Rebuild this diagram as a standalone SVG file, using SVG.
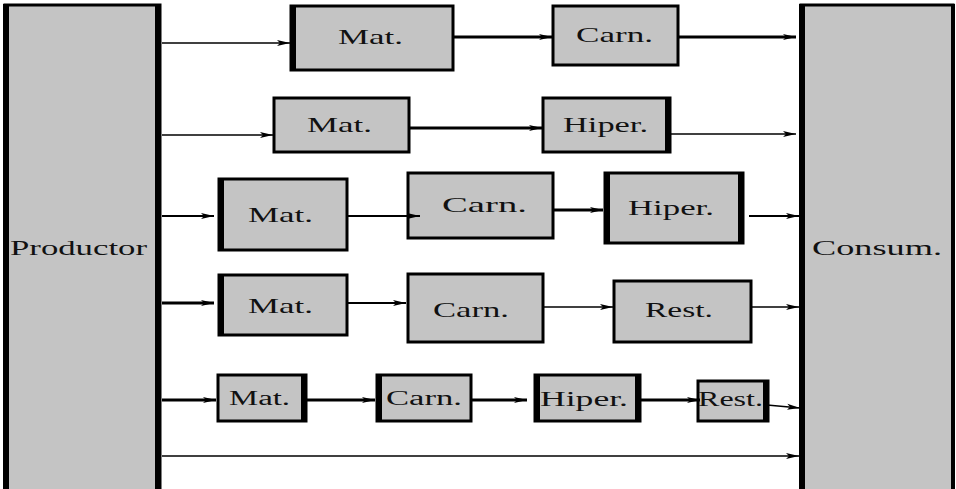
<svg xmlns="http://www.w3.org/2000/svg" width="956" height="489" viewBox="0 0 956 489">
<style>
.box{fill:#c4c4c4;stroke:#000;stroke-width:3;stroke-linejoin:miter}
.side{stroke:#000;stroke-width:6}
.lbl{font-family:"Liberation Serif","Times New Roman",serif;font-size:22px;fill:#111}
.sm{font-size:20px}
.c{fill:none;stroke:#000}
.t1{stroke-width:1.5}
.t2{stroke-width:2.2}
.t3{stroke-width:3.2}
</style>
<defs>
<marker id="ah" markerUnits="userSpaceOnUse" markerWidth="14" markerHeight="8" refX="13" refY="4" orient="auto">
<path d="M0,1 L13,4 L0,7 L3,4 Z" fill="#000"/>
</marker>
</defs>
<rect width="956" height="489" fill="#fff"/>

<g id="productor">
<rect class="box" x="5" y="5" width="155" height="500"/>
<line class="side" x1="6" y1="4" x2="6" y2="489"/>
<line class="side" x1="158" y1="4" x2="158" y2="489"/>
<text class="lbl" x="10" y="255" textLength="137" lengthAdjust="spacingAndGlyphs">Productor</text>
</g>
<g id="consum">
<rect class="box" x="801" y="5" width="152" height="500"/>
<line class="side" x1="802" y1="4" x2="802" y2="489"/>
<line x1="953" y1="4" x2="953" y2="489" stroke="#000" stroke-width="4"/>
<text class="lbl" x="812" y="255" textLength="130" lengthAdjust="spacingAndGlyphs">Consum.</text>
</g>

<g id="r1-mat">
<rect class="box" x="291" y="6" width="162" height="64"/>
<line class="side" x1="293" y1="5" x2="293" y2="71"/>
<text class="lbl" x="338" y="44" textLength="65" lengthAdjust="spacingAndGlyphs">Mat.</text>
</g>
<g id="r1-carn">
<rect class="box" x="553" y="6" width="125" height="59"/>
<text class="lbl" x="576" y="42" textLength="77" lengthAdjust="spacingAndGlyphs">Carn.</text>
</g>

<g id="r2-mat">
<rect class="box" x="274" y="98" width="135" height="54"/>
<text class="lbl" x="307" y="132" textLength="65" lengthAdjust="spacingAndGlyphs">Mat.</text>
</g>
<g id="r2-hiper">
<rect class="box" x="543" y="98" width="127" height="54"/>
<line class="side" x1="668" y1="97" x2="668" y2="153"/>
<text class="lbl" x="563" y="132" textLength="85" lengthAdjust="spacingAndGlyphs">Hiper.</text>
</g>

<g id="r3-mat">
<rect class="box" x="219" y="179" width="128" height="71"/>
<line class="side" x1="221" y1="178" x2="221" y2="251"/>
<text class="lbl" x="248" y="222" textLength="65" lengthAdjust="spacingAndGlyphs">Mat.</text>
</g>
<g id="r3-carn">
<rect class="box" x="408" y="173" width="145" height="65"/>
<text class="lbl" x="442" y="212" textLength="85" lengthAdjust="spacingAndGlyphs">Carn.</text>
</g>
<g id="r3-hiper">
<rect class="box" x="605" y="173" width="138" height="70"/>
<line class="side" x1="607" y1="172" x2="607" y2="244"/>
<line class="side" x1="741" y1="172" x2="741" y2="244"/>
<text class="lbl" x="628" y="215" textLength="86" lengthAdjust="spacingAndGlyphs">Hiper.</text>
</g>

<g id="r4-mat">
<rect class="box" x="219" y="275" width="128" height="60"/>
<line class="side" x1="221" y1="274" x2="221" y2="336"/>
<text class="lbl" x="248" y="313" textLength="65" lengthAdjust="spacingAndGlyphs">Mat.</text>
</g>
<g id="r4-carn">
<rect class="box" x="408" y="274" width="135" height="68"/>
<text class="lbl" x="433" y="317" textLength="76" lengthAdjust="spacingAndGlyphs">Carn.</text>
</g>
<g id="r4-rest">
<rect class="box" x="614" y="281" width="137" height="61"/>
<text class="lbl" x="645" y="317" textLength="68" lengthAdjust="spacingAndGlyphs">Rest.</text>
</g>

<g id="r5-mat">
<rect class="box" x="218" y="375" width="88" height="46"/>
<line class="side" x1="304" y1="374" x2="304" y2="422"/>
<text class="lbl sm" x="229" y="405" textLength="61" lengthAdjust="spacingAndGlyphs">Mat.</text>
</g>
<g id="r5-carn">
<rect class="box" x="377" y="375" width="94" height="46"/>
<line class="side" x1="379" y1="374" x2="379" y2="422"/>
<text class="lbl sm" x="386" y="405" textLength="76" lengthAdjust="spacingAndGlyphs">Carn.</text>
</g>
<g id="r5-hiper">
<rect class="box" x="535" y="375" width="105" height="46"/>
<line class="side" x1="537" y1="374" x2="537" y2="422"/>
<line class="side" x1="638" y1="374" x2="638" y2="422"/>
<text class="lbl sm" x="540" y="406" textLength="88" lengthAdjust="spacingAndGlyphs">Hiper.</text>
</g>
<g id="r5-rest">
<rect class="box" x="698" y="381" width="70" height="40"/>
<line class="side" x1="766" y1="380" x2="766" y2="422"/>
<text class="lbl sm" x="698" y="406" textLength="65" lengthAdjust="spacingAndGlyphs">Rest.</text>
</g>

<g id="connectors">
<line class="c t1" x1="162" y1="43" x2="290" y2="43" marker-end="url(#ah)"/>
<line class="c t3" x1="453" y1="37" x2="552" y2="37" marker-end="url(#ah)"/>
<line class="c t3" x1="678" y1="37" x2="796" y2="37" marker-end="url(#ah)"/>

<line class="c t1" x1="162" y1="135" x2="273" y2="135" marker-end="url(#ah)"/>
<line class="c t3" x1="409" y1="128" x2="542" y2="128" marker-end="url(#ah)"/>
<line class="c t1" x1="671" y1="134" x2="796" y2="134" marker-end="url(#ah)"/>

<line class="c t2" x1="162" y1="216" x2="214" y2="216" marker-end="url(#ah)"/>
<line class="c t2" x1="347" y1="216" x2="420" y2="216" marker-end="url(#ah)"/>
<line class="c t3" x1="553" y1="210" x2="603" y2="210" marker-end="url(#ah)"/>
<line class="c t2" x1="749" y1="216" x2="799" y2="216" marker-end="url(#ah)"/>

<line class="c t3" x1="162" y1="303" x2="214" y2="303" marker-end="url(#ah)"/>
<line class="c t2" x1="347" y1="303" x2="406" y2="303" marker-end="url(#ah)"/>
<line class="c t1" x1="543" y1="307" x2="613" y2="307" marker-end="url(#ah)"/>
<line class="c t1" x1="751" y1="307" x2="799" y2="307" marker-end="url(#ah)"/>

<line class="c t3" x1="162" y1="400" x2="216" y2="400" marker-end="url(#ah)"/>
<line class="c t3" x1="306" y1="400" x2="375" y2="400" marker-end="url(#ah)"/>
<line class="c t3" x1="471" y1="400" x2="527" y2="400" marker-end="url(#ah)"/>
<line class="c t3" x1="640" y1="400" x2="700" y2="400" marker-end="url(#ah)"/>
<line class="c t1" x1="767" y1="405" x2="800" y2="408" marker-end="url(#ah)"/>

<line class="c t1" x1="162" y1="456" x2="799" y2="456" marker-end="url(#ah)"/>
</g>
</svg>
